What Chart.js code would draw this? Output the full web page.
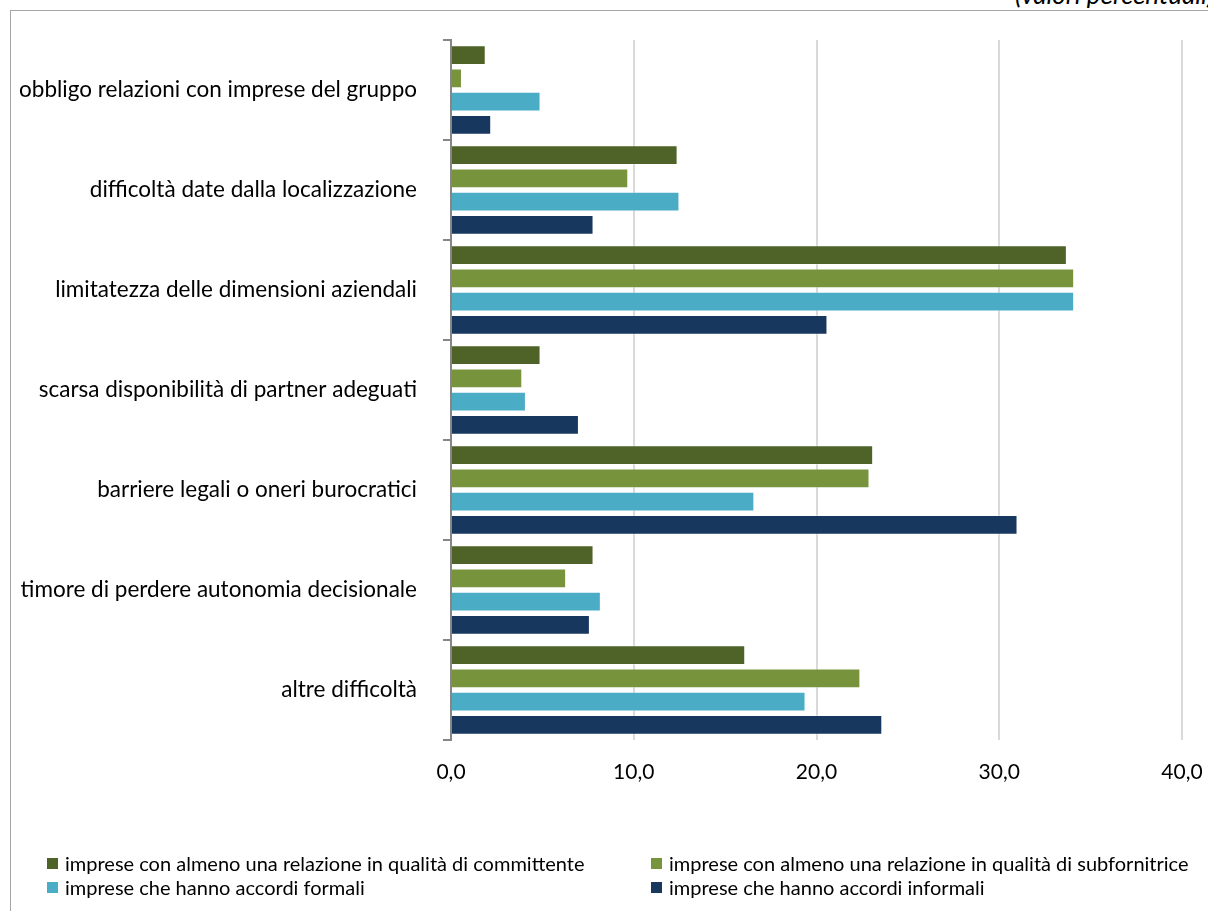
<!DOCTYPE html>
<html>
<head>
<meta charset="utf-8">
<script src="https://cdn.jsdelivr.net/npm/chart.js@4/dist/chart.umd.min.js"></script>
<style>
  html, body { margin: 0; padding: 0; width: 1208px; height: 911px; overflow: hidden; background: #fff; font-family: Lato, "Open Sans", sans-serif; }
  #frame { position: absolute; left: 10px; top: 10px; width: 1300px; height: 1000px; border: 1px solid #a6a6a6; box-sizing: border-box; }
  #note { position: absolute; left: 1015px; top: -22px; font-style: italic; font-size: 26px; white-space: nowrap; color: #000; }
  #chart { position: absolute; left: 0; top: 0; }
  .leg { position: absolute; font-size: 20px; white-space: nowrap; display: flex; align-items: center; color: #000; }
  .leg .box { display: inline-block; width: 11px; height: 11px; margin-right: 7px; }
</style>
</head>
<body>
<div id="frame"></div>
<div id="note">(valori percentuali)</div>
<canvas id="chart" width="1208" height="911"></canvas>
<div id="legend"></div>
<script>
// Categories (top to bottom)
const categories = [
  'obbligo relazioni con imprese del gruppo',
  'difficoltà date dalla localizzazione',
  'limitatezza delle dimensioni aziendali',
  'scarsa disponibilità di partner adeguati',
  'barriere legali o oneri burocratici',
  'timore di perdere autonomia decisionale',
  'altre difficoltà'
];

// Series names
const seriesNames = [
  'imprese con almeno una relazione in qualità di committente',
  'imprese con almeno una relazione in qualità di subfornitrice',
  'imprese che hanno accordi formali',
  'imprese che hanno accordi informali'
];

// Series values (%)
const committente   = [1.9, 12.4, 33.7, 4.9, 23.1, 7.8, 16.1];
const subfornitrice = [0.6,  9.7, 34.1, 3.9, 22.9, 6.3, 22.4];
const formali       = [4.9, 12.5, 34.1, 4.1, 16.6, 8.2, 19.4];
const informali     = [2.2,  7.8, 20.6, 7.0, 31.0, 7.6, 23.6];

// Value axis ticks
const xMin = 0, xMax = 40, xStep = 10;

const seriesColors = ['#4f6228', '#77933c', '#4bacc6', '#17375e'];
const seriesData = [committente, subfornitrice, formali, informali];

const datasets = seriesNames.map((name, i) => ({
  label: name,
  data: seriesData[i],
  backgroundColor: seriesColors[i],
  borderColor: 'rgba(255,255,255,0.35)',
  borderWidth: 1,
  borderSkipped: 'start',
  categoryPercentage: 0.93,
  barPercentage: 0.86
}));

const fmt = v => v.toFixed(1).replace('.', ',');

new Chart(document.getElementById('chart'), {
  type: 'bar',
  data: { labels: categories, datasets },
  options: {
    indexAxis: 'y',
    responsive: false,
    animation: false,
    devicePixelRatio: 1,
    layout: { padding: { left: 0, right: 26, top: 40, bottom: 0 } },
    plugins: { legend: { display: false }, tooltip: { enabled: false } },
    scales: {
      x: {
        min: xMin, max: xMax,
        ticks: {
          stepSize: xStep,
          callback: v => fmt(v),
          color: '#000',
          font: { family: 'Lato', size: 21 },
          padding: 20
        },
        grid: { color: '#d9d9d9', lineWidth: 2, drawTicks: false },
        border: { display: false },
        afterFit: s => { s.height = 171; s.paddingLeft = 0; s.paddingRight = 0; }
      },
      y: {
        ticks: {
          color: '#000',
          font: { family: 'Lato', size: 22.5 },
          padding: 26
        },
        grid: { drawOnChartArea: false, drawTicks: true, tickLength: 8, color: '#868686', lineWidth: 2, offset: true },
        border: { display: true, color: '#868686', width: 2 },
        afterFit: s => { s.width = 451; }
      }
    }
  }
});

// Legend in two columns
const legendPos = [[47, 863], [651, 863], [47, 887], [651, 887]];
const legendEl = document.getElementById('legend');
seriesNames.forEach((name, i) => {
  const d = document.createElement('div');
  d.className = 'leg';
  d.style.left = legendPos[i][0] + 'px';
  d.style.top = (legendPos[i][1] - 12) + 'px';
  const b = document.createElement('span');
  b.className = 'box';
  b.style.background = seriesColors[i];
  d.appendChild(b);
  d.appendChild(document.createTextNode(name));
  legendEl.appendChild(d);
});
</script>
</body>
</html>
